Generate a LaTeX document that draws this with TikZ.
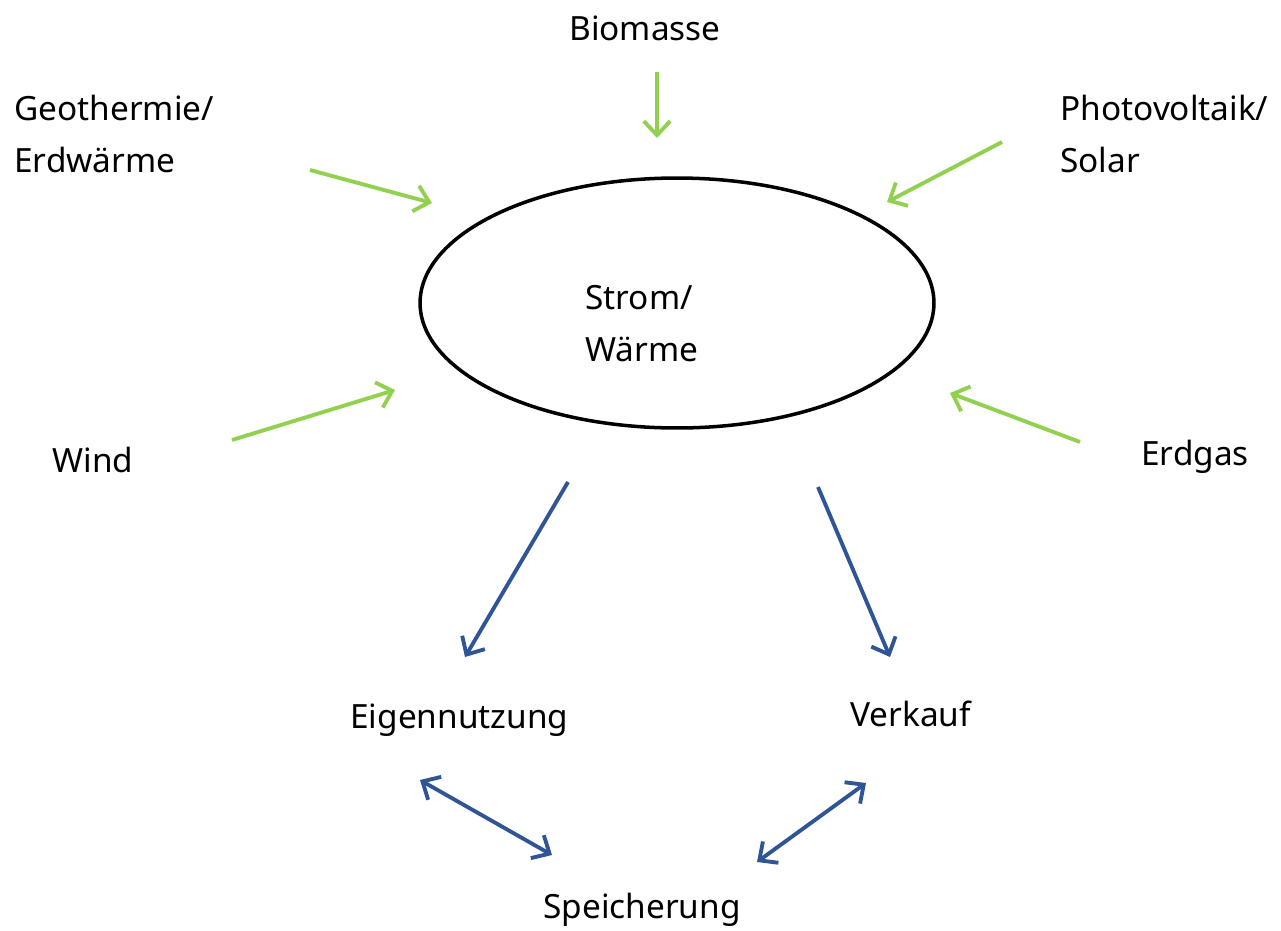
\documentclass[tikz,border=0pt]{standalone}
\usepackage{fontspec}
\setmainfont{Noto Sans}
\usetikzlibrary{arrows.meta,shapes.geometric}
\definecolor{ingreen}{RGB}{146,208,80}
\definecolor{outblue}{RGB}{47,85,151}
\tikzset{
  lbl/.style={inner sep=0pt, anchor=base west, align=left,
    font=\fontsize{19}{29.5}\selectfont},
  inarrow/.style={draw=ingreen, line width=2.2pt, -{Straight Barb[length=8pt,width=15pt]}},
  outarrow/.style={draw=outblue, line width=2.2pt, -{Straight Barb[length=8pt,width=15pt]}},
  botharrow/.style={outarrow, {Straight Barb[length=8pt,width=15pt]}-{Straight Barb[length=8pt,width=15pt]}}
}
\begin{document}
\begin{tikzpicture}[x=0.02cm,y=-0.02cm]
\useasboundingbox (0,0) rectangle (1281,930);
% centre
\node[draw, line width=2pt, ellipse, minimum width=10.28cm, minimum height=5cm, inner sep=0pt] (strom) at (677,303) {};
\node[lbl] (stromtxt) at (585,361) {Strom/\\Wärme};
% sources
\node[lbl, anchor=base] (biomasse) at (645,40) {Biomasse};
\node[lbl] (geo) at (14,172) {Geothermie/\\Erdwärme};
\node[lbl] (pv) at (1060,172) {Photovoltaik/\\Solar};
\node[lbl] (wind) at (52,472) {Wind};
\node[lbl] (erdgas) at (1141,465) {Erdgas};
% uses
\node[lbl] (eigen) at (350,728) {Eigennutzung};
\node[lbl] (verkauf) at (850,726) {Verkauf};
\node[lbl] (speicher) at (543,918) {Speicherung};
% arrow ends
\coordinate (bio1) at (657,72);   \coordinate (bio2) at (657,138);
\coordinate (geo1) at (310,170);  \coordinate (geo2) at (432,203);
\coordinate (pv1) at (1002,142);  \coordinate (pv2) at (887,202);
\coordinate (wind1) at (232,440); \coordinate (wind2) at (395,390);
\coordinate (gas1) at (1080,442); \coordinate (gas2) at (950,393);
\coordinate (eig1) at (568,482);  \coordinate (eig2) at (465,657);
\coordinate (ver1) at (818,487);  \coordinate (ver2) at (890,657);
\coordinate (sp1) at (420,780);   \coordinate (sp2) at (552,855);
\coordinate (sp3) at (866,783);   \coordinate (sp4) at (757,862);
\draw[inarrow] (bio1) -- (bio2);
\draw[inarrow] (geo1) -- (geo2);
\draw[inarrow] (pv1) -- (pv2);
\draw[inarrow] (wind1) -- (wind2);
\draw[inarrow] (gas1) -- (gas2);
\draw[outarrow] (eig1) -- (eig2);
\draw[outarrow] (ver1) -- (ver2);
\draw[botharrow] (sp1) -- (sp2);
\draw[botharrow] (sp3) -- (sp4);
\end{tikzpicture}
\end{document}
